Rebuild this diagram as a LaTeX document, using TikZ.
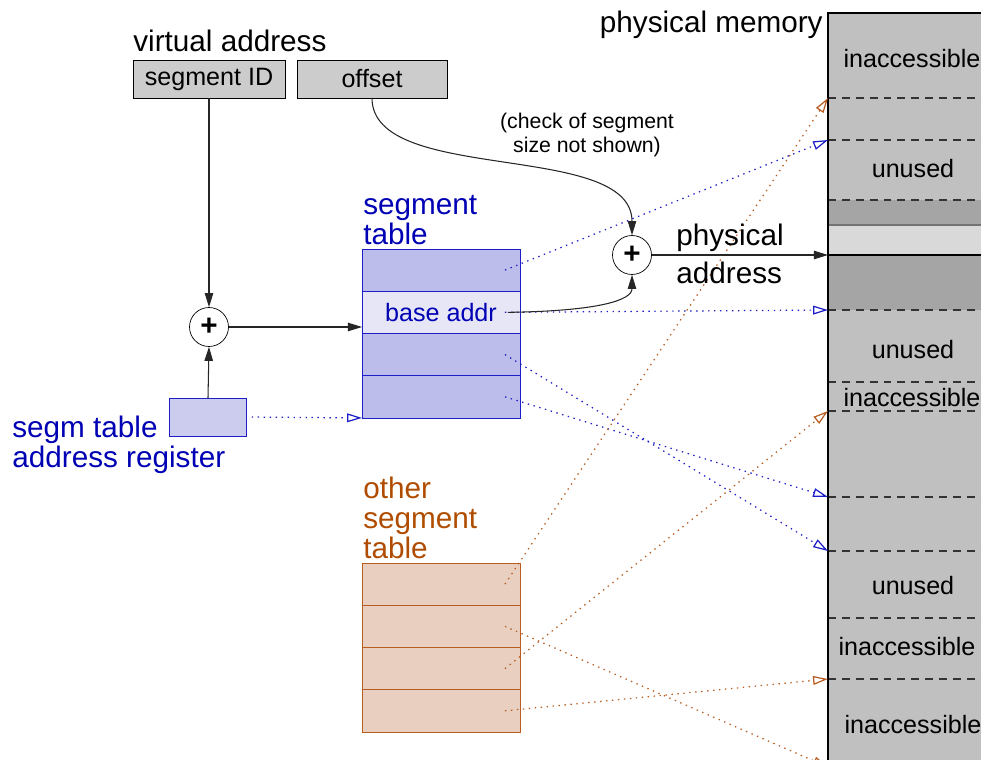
\documentclass[tikz,border=0pt]{standalone}
\usepackage{fontspec}
\setmainfont{Liberation Sans}
\definecolor{segblue}{RGB}{0,0,180}
\definecolor{segline}{RGB}{30,30,200}
\definecolor{segfill}{RGB}{188,189,234}
\definecolor{basefill}{RGB}{230,230,246}
\definecolor{regfill}{RGB}{204,204,238}
\definecolor{othbrown}{RGB}{176,76,0}
\definecolor{othline}{RGB}{184,92,32}
\definecolor{othfill}{RGB}{233,207,191}
\definecolor{boxgray}{RGB}{204,204,204}
\definecolor{memgray}{RGB}{192,192,192}
\definecolor{memdark}{RGB}{165,165,165}
\definecolor{memlight}{RGB}{217,217,217}
\usetikzlibrary{arrows.meta,positioning,calc}
\newcommand{\bigtxt}{\fontsize{16.9}{17}\selectfont}
\newcommand{\midtxt}{\fontsize{14.3}{15}\selectfont}
\newcommand{\notetxt}{\fontsize{12.1}{13.6}\selectfont}

\begin{document}
\begin{tikzpicture}[
  x=0.02cm, y=-0.02cm,
  every node/.style={font=\midtxt},
  vabox/.style={draw,fill=boxgray,minimum height=0.76cm,inner sep=0pt,outer sep=0pt},
  segrow/.style={draw=segline,fill=segfill,minimum width=3.16cm,minimum height=0.845cm,
                 outer sep=0pt,text=segblue},
  othrow/.style={draw=othline,fill=othfill,minimum width=3.16cm,minimum height=0.845cm,
                 outer sep=0pt},
  adder/.style={draw,circle,fill=white,minimum size=0.78cm,inner sep=0pt,
                font=\bigtxt\bfseries},
  lbl/.style={inner sep=0pt,align=left,font=\bigtxt},
  memtxt/.style={inner sep=0pt},
  arr/.style={-{Triangle[length=8pt,width=4.8pt]},line width=0.6pt,black!85},
  bptr/.style={-{Triangle[open,length=8.5pt,width=5pt]},segline,line width=0.7pt,
               dash pattern=on 0.8pt off 2.6pt},
  optr/.style={bptr,othline},
  memsep/.style={black!80,line width=0.6pt,dash pattern=on 4.5pt off 3.4pt},
]
  \useasboundingbox (0,0) rectangle (981,760);
  \clip (0,0) rectangle (981,760);

  % physical memory
  \fill[memgray] (828,13) rectangle (990,770);
  \fill[memdark] (828,200) rectangle (990,225);
  \fill[memlight] (828,225) rectangle (990,255);
  \fill[memdark] (828,255) rectangle (990,310);
  \foreach \y in {98,140,200,310,382,411,497,551,618,679}
    \draw[memsep] (828,\y) -- (990,\y);
  \draw[black!55,line width=0.6pt] (828,225) -- (990,225);
  \draw[line width=0.6pt] (828,255) -- (990,255);
  \draw[line width=0.6pt] (990,13) -- (828,13) -- (828,770);
  \foreach \y in {98,140,255,310,411,497,551,679,767}
    \coordinate (m\y) at (828,\y);

  \node[memtxt] (inacc1) at (912,59) {inaccessible};
  \node[memtxt] (unused1) at (913,169) {unused};
  \node[memtxt] (unused2) at (913,350) {unused};
  \node[memtxt] (inacc2) at (912,398) {inaccessible};
  \node[memtxt] (unused3) at (913,586) {unused};
  \node[memtxt] (inacc3) at (907,647) {inaccessible};
  \node[memtxt] (inacc4) at (913,725) {inaccessible};
  \node[lbl,anchor=east] (memlbl) at (823,25) {physical memory};

  % virtual address
  \node[lbl,anchor=west] (valbl) at (133,41) {virtual address};
  \node[vabox,minimum width=3.04cm] (segid) at (209,79) {segment ID};
  \node[vabox,minimum width=3.0cm] (offset) at (372,79) {offset};

  % segment table
  \node[lbl,anchor=west,text=segblue] (stlbl) at (363,220) {segment\\table};
  \node[segrow] (st1) at (441,270.1) {};
  \node[segrow,fill=basefill,below=0pt of st1] (st2) {base addr};
  \node[segrow,below=0pt of st2] (st3) {};
  \node[segrow,below=0pt of st3] (st4) {};

  % other segment table
  \node[lbl,anchor=west,text=othbrown] (otlbl) at (363,518) {other\\segment\\table};
  \node[othrow] (ot1) at (441,584.1) {};
  \node[othrow,below=0pt of ot1] (ot2) {};
  \node[othrow,below=0pt of ot2] (ot3) {};
  \node[othrow,below=0pt of ot3] (ot4) {};

  % register and adders
  \node[draw=segline,fill=regfill,minimum width=1.54cm,minimum height=0.76cm,
        outer sep=0pt] (reg) at (208,417) {};
  \node[lbl,anchor=west,text=segblue] (reglbl) at (12,445) {segm table\\address register};
  \node[adder] (plusA) at (209,327) {+};
  \node[adder] (plusB) at (632,255) {+};

  % arrows
  \draw[arr] (segid.south) -- (plusA.north);
  \draw[arr] (reg.north) -- (plusA.south);
  \draw[arr] (plusA.east) -- (plusA.east -| st2.west);
  \draw[bptr,shorten <=3pt] (reg.east) -- (st4.south west);
  \draw[arr] (offset.south) .. controls (372,185) and (632,140) .. (plusB.north);

  \draw[bptr] ([xshift=-0.3cm]st1.east) -- (m140);
  \draw[bptr] ([xshift=-0.3cm]st2.east) -- (m310);
  \draw[bptr] ([xshift=-0.3cm]st3.east) -- (m551);
  \draw[bptr] ([xshift=-0.3cm]st4.east) -- (m497);
  \draw[optr] ([xshift=-0.3cm]ot1.east) -- (m98);
  \draw[optr] ([xshift=-0.3cm]ot2.east) -- (m767);
  \draw[optr] ([xshift=-0.3cm]ot3.east) -- (m411);
  \draw[optr] ([xshift=-0.3cm]ot4.east) -- (m679);

  \draw[arr] ([xshift=-0.24cm]st2.east) .. controls (600,311) and (632,300) .. (plusB.south);
  \draw[arr] (plusB.east) -- (m255);

  % labels
  \node[lbl,anchor=west,font=\bigtxt\linespread{1.27}\selectfont] (physlbl) at (676,254)
    {physical\\address};
  \node[align=center,inner sep=0pt,font=\notetxt] (note) at (587,135)
    {(check of segment\\size not shown)};
\end{tikzpicture}
\end{document}
